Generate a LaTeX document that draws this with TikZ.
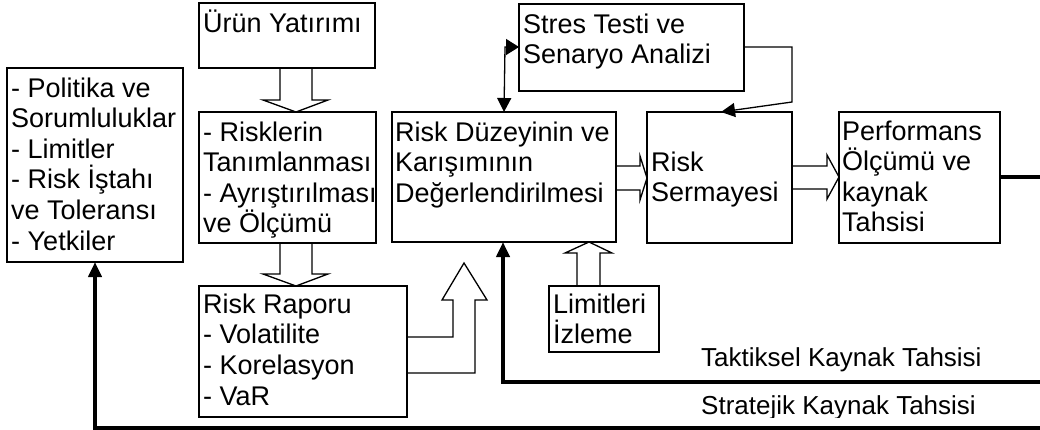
\documentclass[tikz,border=0pt]{standalone}
\usepackage{fontspec}
\setmainfont{Liberation Sans}
\usetikzlibrary{arrows.meta}
% strut that fixes the first baseline of every box text
\newcommand{\firstline}{\rule{0pt}{24pt}}
\begin{document}
\begin{tikzpicture}[x=1pt,y=-1pt,
  box/.style={draw, line width=1.3pt, inner sep=0pt, outer sep=0pt, anchor=north west},
  txt/.style={anchor=north west, inner sep=0pt, align=left,
              font=\fontsize{27}{30.6}\selectfont},
  lbl/.style={anchor=base west, inner sep=0pt, font=\fontsize{26}{30}\selectfont},
  blockarrow/.style={draw, line width=1.3pt, line join=miter},
  thinarrow/.style={line width=1.3pt, line join=miter},
  feedback/.style={line width=4pt, line join=miter, -{Triangle[length=15pt,width=13pt]}}
]
\fill[white] (0,0) rectangle (1040,430);
\useasboundingbox (0,0) rectangle (1040,430);

% boxes
\node[box, minimum width=176pt, minimum height=65pt]  (urun)    at (199,3)   {};
\node[box, minimum width=176pt, minimum height=194pt] (polit)   at (7,68)    {};
\node[box, minimum width=177pt, minimum height=131pt] (riskler) at (199,112) {};
\node[box, minimum width=224pt, minimum height=130pt] (duzey)   at (392,112) {};
\node[box, minimum width=225pt, minimum height=87pt]  (stres)   at (519,4)   {};
\node[box, minimum width=145pt, minimum height=131pt] (serm)    at (647,112) {};
\node[box, minimum width=161pt, minimum height=131pt] (perf)    at (839,112) {};
\node[box, minimum width=208pt, minimum height=131pt] (rapor)   at (199,286) {};
\node[box, minimum width=110pt, minimum height=66pt]  (limit)   at (549,286) {};

% box texts
\node[txt] (urunT) at ([shift={(4,5)}]urun.north west) {\firstline Ürün Yatırımı};
\node[txt] (politT) at ([shift={(4,5)}]polit.north west)
  {\firstline - Politika ve\\ Sorumluluklar\\ - Limitler\\ - Risk İştahı\\ ve Toleransı\\ - Yetkiler};
\node[txt] (risklerT) at ([shift={(4,5)}]riskler.north west)
  {\firstline - Risklerin\\ Tanımlanması\\ - Ayrıştırılması\\ ve Ölçümü};
\node[txt] (duzeyT) at ([shift={(3,5)}]duzey.north west)
  {\firstline Risk Düzeyinin ve\\ Karışımının\\ Değerlendirilmesi};
\node[txt] (stresT) at ([shift={(4,5)}]stres.north west)
  {\firstline Stres Testi ve\\ Senaryo Analizi};
\node[txt] (sermT) at ([shift={(4,35)}]serm.north west)
  {\firstline Risk\\ Sermayesi};
\node[txt] (perfT) at ([shift={(3,4)}]perf.north west)
  {\firstline Performans\\ Ölçümü ve\\ kaynak\\ Tahsisi};
\node[txt] (raporT) at ([shift={(4,3)}]rapor.north west)
  {\firstline Risk Raporu\\ - Volatilite\\ - Korelasyon\\ - VaR};
\node[txt] (limitT) at ([shift={(4,3)}]limit.north west)
  {\firstline Limitleri\\ İzleme};

% hollow block arrows
\draw[blockarrow] (urun.south -| 280,0) -- (280,100) -- (263,100) -- (riskler.north -| 296,0)
  -- (328,100) -- (312,100) -- (urun.south -| 312,0);
\draw[blockarrow] (riskler.south -| 280,0) -- (280,274) -- (263,274) -- (rapor.north -| 296,0)
  -- (328,274) -- (312,274) -- (riskler.south -| 312,0);
\coordinate (raporTip) at (464,263);
\draw[blockarrow] (rapor.east |- 0,337) -- (453,337) -- (453,300) -- (442,300) -- (raporTip)
  -- (487,300) -- (475,300) -- (475,373) -- (rapor.east |- 0,373);
\draw[blockarrow] (duzey.east |- 0,166) -- (640,166) -- (640,156) -- (serm.west |- 0,178)
  -- (640,200) -- (640,190) -- (duzey.east |- 0,190);
\draw[blockarrow] (serm.east |- 0,166) -- (827,166) -- (827,155) -- (perf.west |- 0,177)
  -- (827,199) -- (827,189) -- (serm.east |- 0,189);
\draw[blockarrow] (limit.north -| 577,0) -- (577,253) -- (565,253) -- (duzey.south -| 589,0)
  -- (612,253) -- (600,253) -- (limit.north -| 600,0);

% thin connectors
\draw[thinarrow, -{Triangle[length=14pt,width=14pt]}]
  (stres.east |- 0,47) -| (792,102) -- (serm.north -| 721,0);
\draw[thinarrow, {Triangle[length=13pt,width=16pt]}-{Triangle[length=14pt,width=14pt]}]
  (stres.west |- 0,47) -- (505,47) -- (duzey.north -| 504,0);

% resource allocation feedback
\coordinate (outR) at (1040,177.5);
\coordinate (tacR) at (1040,382);
\coordinate (strR) at (1040,428);
\draw[line width=4pt] (perf.east) -- (outR);
\draw[feedback] (tacR) -- (503,382) -- (duzey.south -| 503,0);
\draw[feedback] (strR) -- (95,428) -- (polit.south -| 95,0);

\node[lbl] (tacL) at (701,366) {Taktiksel Kaynak Tahsisi};
\begin{scope}
  \clip (690,385) rectangle (1000,417);
  \node[lbl] (strL) at (701,414) {Stratejik Kaynak Tahsisi};
\end{scope}
\end{tikzpicture}
\end{document}
